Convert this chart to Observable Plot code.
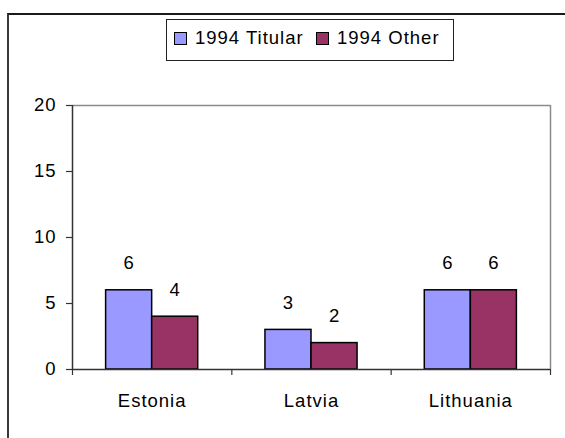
<!DOCTYPE html>
<html>
<head>
<meta charset="utf-8">
<script src="https://cdn.jsdelivr.net/npm/d3@7"></script>
<script src="https://cdn.jsdelivr.net/npm/@observablehq/plot@0.6"></script>
<style>
  html, body { margin: 0; padding: 0; background: #fff; }
  #wrap { position: relative; width: 565px; height: 438px; overflow: hidden; font-family: "Liberation Sans", Arial, sans-serif; }
  #frame { position: absolute; left: 7px; top: 13px; width: 600px; height: 500px; border-top: 2px solid #1a1a1a; border-left: 2px solid #3a3a3a; box-sizing: border-box; }
  #chart { position: absolute; left: 0; top: 0; }
  #legend { position: absolute; left: 166px; top: 19px; width: 288px; height: 42px; box-sizing: border-box; border: 1px solid #222; background: #fff; }
  .item { position: absolute; top: 6px; display: flex; align-items: center; font-size: 18.5px; letter-spacing: 1px; color: #000; line-height: 24px; }
  .sw { width: 13px; height: 13px; border: 1px solid #000; margin-right: 8px; box-sizing: border-box; }
</style>
</head>
<body>
<div id="wrap">
  <div id="frame"></div>
  <div id="chart"></div>
  <div id="legend"></div>
</div>
<script>
const countries = ["Estonia", "Latvia", "Lithuania"];
const titular = [6, 3, 6];
const other = [4, 2, 6];
const seriesNames = ["1994 Titular", "1994 Other"];
const seriesColors = ["#9999ff", "#993366"];
const yTicks = [0, 5, 10, 15, 20];

const rows = [];
countries.forEach((c, i) => {
  rows.push({country: c, i, k: 0, series: seriesNames[0], value: titular[i]});
  rows.push({country: c, i, k: 1, series: seriesNames[1], value: other[i]});
});

const bw = 0.289; // bar width as a fraction of a category slot
const x1 = d => d.i + 0.5 + (d.k === 0 ? -bw : 0);
const x2 = d => d.i + 0.5 + (d.k === 0 ? 0 : bw);
const xc = d => d.i + 0.5 + (d.k === 0 ? -bw / 2 : bw / 2);

const chart = Plot.plot({
  width: 565,
  height: 438,
  marginTop: 105,
  marginBottom: 69,
  marginLeft: 72,
  marginRight: 15,
  style: {fontFamily: "Liberation Sans, Arial, sans-serif", fontSize: "18.5px", color: "#000", letterSpacing: "1px", background: "transparent", overflow: "visible"},
  x: {domain: [0, countries.length], axis: null},
  y: {domain: [0, 20], axis: null},
  color: {domain: seriesNames, range: seriesColors},
  marks: [
    Plot.ruleY([20], {stroke: "#8c8c8c", strokeWidth: 1.5}),
    Plot.ruleX([countries.length], {stroke: "#8c8c8c", strokeWidth: 1.5}),
    Plot.rectY(rows, {x1, x2, y: "value", fill: "series", stroke: "#000", strokeWidth: 1.5}),
    Plot.ruleX([0], {stroke: "#333", strokeWidth: 1.5}),
    Plot.ruleY([0], {stroke: "#333", strokeWidth: 1.5}),
    Plot.axisY({ticks: yTicks, tickSize: 6, tickPadding: 10, label: null, stroke: "#333", strokeWidth: 1.2}),
    Plot.axisX({ticks: d3.range(countries.length + 1), tickFormat: () => "", tickSize: 6, label: null, stroke: "#333", strokeWidth: 1.2}),
    Plot.axisX({ticks: countries.map((c, i) => i + 0.5), tickFormat: v => countries[Math.floor(v)], tickSize: 0, tickPadding: 24, label: null}),
    Plot.text(rows, {x: xc, y: "value", text: d => String(d.value), dy: -27, lineAnchor: "middle", fill: "#000"})
  ]
});
document.getElementById("chart").appendChild(chart);

const legend = document.getElementById("legend");
const lefts = [7, 149];
seriesNames.forEach((name, k) => {
  const it = document.createElement("div");
  it.className = "item";
  it.style.left = lefts[k] + "px";
  const sw = document.createElement("div");
  sw.className = "sw";
  sw.style.background = seriesColors[k];
  it.appendChild(sw);
  const t = document.createElement("span");
  t.textContent = name;
  it.appendChild(t);
  legend.appendChild(it);
});
</script>
</body>
</html>
